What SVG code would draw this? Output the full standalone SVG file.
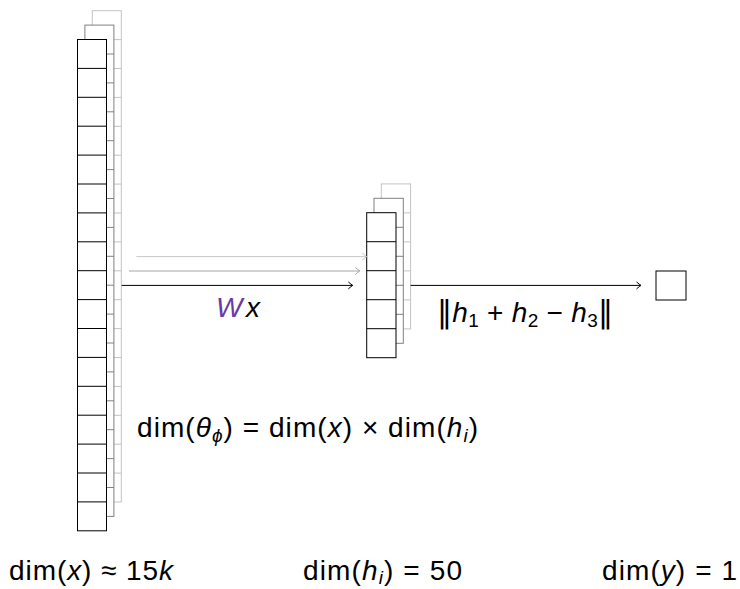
<svg xmlns="http://www.w3.org/2000/svg" xmlns:xlink="http://www.w3.org/1999/xlink" width="740" height="589" viewBox="0 0 740 589">
<style>
.t { font-family: "Liberation Sans", "DejaVu Sans", sans-serif; font-size: 28px; fill: #000; }
.i { font-style: italic; }
.sub { font-size: 19px; }
.nrm { font-family: "DejaVu Sans", sans-serif; font-size: 30px; }
.w { fill: #6a3aa8; }
.cell { fill: #fff; stroke-width: 1; }
.arr { fill: none; stroke-width: 1; }
</style>
<defs>
  <g id="bigcol" class="cell">
    <rect x="0" y="0" width="29" height="491.3"/>
    <path fill="none" d="M0 28.9h29M0 57.8h29M0 86.7h29M0 115.6h29M0 144.5h29M0 173.4h29M0 202.3h29M0 231.2h29M0 260.1h29M0 289h29M0 317.9h29M0 346.8h29M0 375.7h29M0 404.6h29M0 433.5h29M0 462.4h29"/>
  </g>
  <g id="smallcol" class="cell">
    <rect x="0" y="0" width="29.3" height="145"/>
    <path fill="none" d="M0 29h29.3M0 58h29.3M0 87h29.3M0 116h29.3"/>
  </g>
  <marker id="tipK" markerUnits="userSpaceOnUse" viewBox="-6 -5 8 10" markerWidth="8" markerHeight="10" refX="0" refY="0" orient="auto">
    <path d="M-4 -3.5 Q-1 -0.8 0.5 0 Q-1 0.8 -4 3.5" fill="none" stroke="#000" stroke-width="1"/>
  </marker>
  <marker id="tipG" markerUnits="userSpaceOnUse" viewBox="-6 -5 8 10" markerWidth="8" markerHeight="10" refX="0" refY="0" orient="auto">
    <path d="M-4 -3.5 Q-1 -0.8 0.5 0 Q-1 0.8 -4 3.5" fill="none" stroke="#a6a6a6" stroke-width="1"/>
  </marker>
  <marker id="tipL" markerUnits="userSpaceOnUse" viewBox="-6 -5 8 10" markerWidth="8" markerHeight="10" refX="0" refY="0" orient="auto">
    <path d="M-4 -3.5 Q-1 -0.8 0.5 0 Q-1 0.8 -4 3.5" fill="none" stroke="#c8c8c8" stroke-width="1"/>
  </marker>
</defs>

<g id="input-layers">
  <use xlink:href="#bigcol" href="#bigcol" x="92.3" y="10.7" stroke="#c4c4c4"/>
  <use xlink:href="#bigcol" href="#bigcol" x="84.9" y="25.1" stroke="#808080"/>
  <use xlink:href="#bigcol" href="#bigcol" x="77.5" y="39.5" stroke="#000"/>
</g>

<g id="hidden-layers">
  <use xlink:href="#smallcol" href="#smallcol" x="381.3" y="183.9" stroke="#c4c4c4"/>
  <use xlink:href="#smallcol" href="#smallcol" x="374" y="198.3" stroke="#808080"/>
  <use xlink:href="#smallcol" href="#smallcol" x="366.7" y="212.7" stroke="#000"/>
</g>

<g id="output">
  <rect x="656" y="271" width="30" height="29" fill="#fff" stroke="#000" stroke-width="1"/>
</g>

<g id="connectors">
  <line class="arr" x1="136.3" y1="256.6" x2="366.3" y2="256.6" stroke="#c8c8c8" marker-end="url(#tipL)"/>
  <line class="arr" x1="129" y1="271" x2="359.3" y2="271" stroke="#a6a6a6" marker-end="url(#tipG)"/>
  <line class="arr" x1="121.6" y1="285.4" x2="352.3" y2="285.4" stroke="#000" marker-end="url(#tipK)"/>
  <line class="arr" x1="410.6" y1="285.4" x2="640.5" y2="285.4" stroke="#000" marker-end="url(#tipK)"/>
</g>

<g id="labels">
  <text class="t" x="216" y="317" textLength="44"><tspan class="i w">W</tspan><tspan class="i">x</tspan></text>
  <text class="t" x="437" y="322" textLength="176"><tspan class="nrm">‖</tspan><tspan class="i">h</tspan><tspan class="sub" dy="5">1</tspan><tspan dy="-5"> + </tspan><tspan class="i">h</tspan><tspan class="sub" dy="5">2</tspan><tspan dy="-5"> − </tspan><tspan class="i">h</tspan><tspan class="sub" dy="5">3</tspan><tspan class="nrm" dy="-5">‖</tspan></text>
  <text class="t" x="137" y="437" textLength="341">dim(<tspan class="i">θ</tspan><tspan class="sub i" dy="5">ϕ</tspan><tspan dy="-5">) = dim(</tspan><tspan class="i">x</tspan>) × dim(<tspan class="i">h</tspan><tspan class="sub i" dy="5">i</tspan><tspan dy="-5">)</tspan></text>
  <text class="t" x="9" y="580" textLength="164">dim(<tspan class="i">x</tspan>) ≈ 15<tspan class="i">k</tspan></text>
  <text class="t" x="303" y="580" textLength="159">dim(<tspan class="i">h</tspan><tspan class="sub i" dy="4">i</tspan><tspan dy="-4">) = 50</tspan></text>
  <text class="t" x="602" y="580" textLength="135">dim(<tspan class="i">y</tspan>) = 1</text>
</g>
</svg>
